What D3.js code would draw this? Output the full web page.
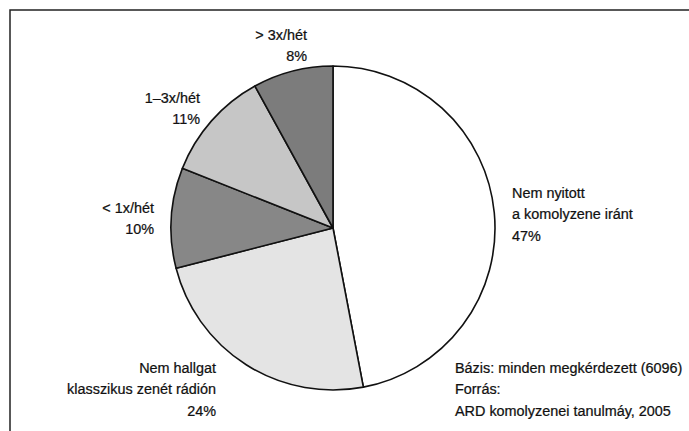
<!DOCTYPE html>
<html lang="hu">
<head>
<meta charset="utf-8">
<title>Komolyzene hallgatás rádión</title>
<script src="https://cdn.jsdelivr.net/npm/d3@7"></script>
<style>
  body { margin: 0; background: #fff; }
  text { font-family: "Liberation Sans", Arial, sans-serif; font-size: 15.5px; fill: #111; stroke: #111; stroke-width: 0.25px; }
</style>
</head>
<body>
<div id="chart"></div>
<script>
// slice data, clockwise from 12 o'clock
var labels = [["Nem nyitott", "a komolyzene iránt"], ["Nem hallgat", "klasszikus zenét rádión"], ["< 1x/hét"], ["1\u20133x/hét"], ["> 3x/hét"]];
var values = [47, 24, 10, 11, 8];
var fills = ["#ffffff", "#e4e4e4", "#878787", "#c6c6c6", "#7c7c7c"];
var notes = ["Bázis: minden megkérdezett (6096)", "Forrás:", "ARD komolyzenei tanulmáy, 2005"];

var W = 689, H = 431;
var cx = 333, cy = 228, r = 162;
var squeeze = 0.93; // the print uses a slightly condensed face

var svg = d3.select("#chart").append("svg").attr("width", W).attr("height", H);

// frame: only top and left edges
svg.append("path").attr("d", "M10," + H + "V10H" + W)
   .attr("fill", "none").attr("stroke", "#222").attr("stroke-width", 1.5);

var pie = d3.pie().sort(null).value(function (d) { return d; });
var arc = d3.arc().innerRadius(0).outerRadius(r);
var arcs = pie(values);

var g = svg.append("g").attr("transform", "translate(" + cx + "," + cy + ")");
g.selectAll("path.slice")
  .data(arcs)
  .enter()
  .append("path")
  .attr("class", "slice")
  .attr("d", arc)
  .attr("fill", function (d, i) { return fills[i]; })
  .attr("stroke", "#111")
  .attr("stroke-width", 1.6)
  .attr("stroke-linejoin", "round");

// label anchor points (baseline of first line), picked to sit like the print
var labelPos = [
  { x: 512, y: 198, anchor: "start" },
  { x: 216, y: 373, anchor: "end" },
  { x: 154, y: 213, anchor: "end" },
  { x: 200, y: 103, anchor: "end" },
  { x: 307, y: 40, anchor: "end" }
];
var lineH = 21.5;

function block(x, y, anchor, lines) {
  var t = svg.append("text")
    .attr("text-anchor", anchor)
    .attr("transform", "translate(" + x + ",0) scale(" + squeeze + ",1)");
  lines.forEach(function (l, j) {
    t.append("tspan").attr("x", 0).attr("y", y + j * lineH).text(l);
  });
}

arcs.forEach(function (a, i) {
  var p = labelPos[i];
  block(p.x, p.y, p.anchor, labels[i].concat([values[i] + "%"]));
});

block(455, 373, "start", notes);
</script>
</body>
</html>
